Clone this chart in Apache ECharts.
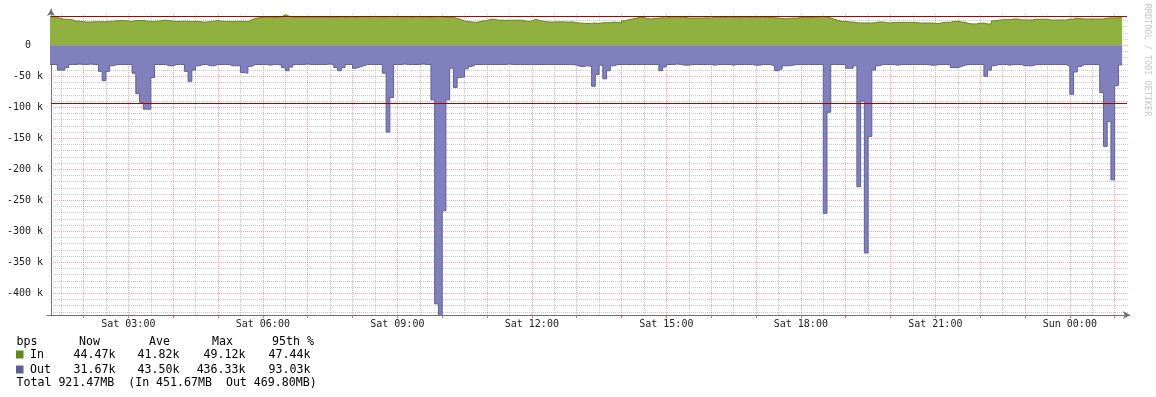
<!DOCTYPE html>
<html>
<head>
<meta charset="utf-8">
<title>Traffic - bps</title>
<script src="https://cdn.jsdelivr.net/npm/echarts@6/dist/echarts.min.js"></script>
<style>
  html, body { margin: 0; padding: 0; background: #fff; }
  #chart { width: 1156px; height: 397px; }
</style>
</head>
<body>
<div id="chart"></div>
<script>
// 5 minute samples, x is hours since Sat 00:00, first sample ends at 01:15
const START_HOUR = 1.25
const STEP_HOUR = 5 / 60

// inbound, k bps (one row = one hour)
const inK = [
  46,
  46, 45, 43, 42, 42, 41, 39, 39, 38, 37.5, 37.6, 38,
  38, 38, 38, 38, 39, 39.5, 40, 40, 39, 38.5, 40, 40,
  40, 39, 38.5, 38.5, 39, 40, 40.5, 40, 39, 38.5, 38.5, 39,
  38.5, 38.5, 38.7, 38.5, 37.5, 37.5, 38.5, 39, 40, 39, 38.5, 38.5,
  38.5, 38.7, 38.5, 38.7, 38.5, 41, 43.5, 44.5, 45, 45.5, 45.2, 45,
  45, 46, 49.12, 47, 45.5, 45.5, 45, 45.5, 45.5, 45, 45.5, 45.5,
  45.5, 45.5, 45, 45.5, 45.5, 46, 45.5, 46, 46, 45.5, 46, 46,
  46, 46, 46.5, 46, 46, 46, 46.5, 46, 46, 46, 46, 46,
  45.6, 46, 46, 45.6, 46, 45.5, 46, 46.5, 46, 45.5, 45.6, 45,
  43.5, 41.5, 39, 38.5, 37.5, 37, 38, 39.5, 40, 42, 42, 40.5,
  40.5, 40.3, 40.5, 40.3, 40.5, 40.5, 39.5, 38.7, 39, 42, 40, 39,
  38, 37.6, 37.6, 37.6, 38, 37.6, 37.5, 37.6, 36.5, 36, 35.5, 35,
  35.5, 36, 35, 36.5, 36.5, 36.5, 37.5, 37, 36, 39.5, 41.3, 42.5,
  44, 45, 45, 43, 42.5, 43.5, 44, 44.5, 44, 46, 46, 46,
  45.5, 45, 44, 44, 44, 44, 44, 44.5, 44, 45, 45, 45,
  45, 45.5, 45, 45, 45, 45.5, 45, 45, 45, 45.5, 45, 45,
  45, 44.5, 44, 43.5, 42.5, 43.5, 44, 44, 45, 45, 45, 45,
  45.6, 46, 46.5, 45.6, 44, 42, 40, 38.7, 38.7, 37.6, 37.6, 36.5,
  36, 36, 36, 36, 36.5, 37.6, 37.6, 36.5, 36, 37, 37, 37,
  37, 37, 37, 36.5, 36, 36, 36, 36, 35.5, 35, 37, 37,
  37, 38.5, 38.7, 37.6, 37, 35, 34.5, 34.5, 35.5, 36, 34.5, 34.5,
  39.5, 40.5, 41.3, 41.3, 41.3, 42.4, 42.4, 41, 41, 40.8, 41, 42,
  42, 42, 42, 40.8, 40.8, 40.8, 41, 40.8, 42, 42.4, 44, 43,
  42.4, 42.4, 42.5, 42.4, 42.4, 42.5, 44, 44.2, 44.3, 44.4, 44.47,
]

// outbound, k bps (drawn below zero)
const outK = [
  31,
  31, 31, 40, 40, 36, 31, 31, 30, 31, 31, 30, 31,
  31, 42, 57, 42, 33, 31, 31, 31, 31, 31, 45, 78,
  92, 103, 103, 52, 31, 31, 31, 33, 33, 31, 31, 31,
  42, 58, 40, 33, 31, 31, 33, 33, 31, 31, 31, 31,
  33, 33, 33, 44, 45, 34, 31, 31, 31, 31, 32, 31,
  31, 32, 36, 41, 35, 31, 31, 31, 30, 31, 31, 31,
  31, 31, 30, 31, 36, 41, 36, 31, 31, 37, 35, 33,
  31, 31, 31, 31, 31, 45, 140, 84, 31, 31, 30, 31,
  31, 31, 31, 30, 31, 31, 88, 417, 436.33, 267, 88, 37,
  68, 52, 51, 38, 34, 31, 31, 31, 31, 31, 31, 31,
  31, 31, 30, 31, 31, 31, 31, 31, 31, 31, 31, 31,
  31, 31, 31, 31, 31, 31, 31, 31, 32, 34, 34, 33,
  34, 66, 47, 32, 54, 41, 33, 31, 31, 31, 31, 31,
  31, 31, 31, 31, 31, 31, 31, 41, 35, 31, 31, 30,
  31, 32, 32, 31, 31, 31, 31, 31, 31, 32, 31, 31,
  31, 31, 32, 31, 31, 31, 31, 31, 32, 32, 31, 31,
  31, 34, 41, 38, 33, 33, 32, 31, 31, 31, 31, 31,
  31, 31, 31, 271, 108, 31, 31, 31, 31, 37, 37, 33,
  228, 90, 335, 147, 40, 33, 31, 31, 31, 31, 32, 31,
  31, 31, 31, 31, 31, 31, 31, 32, 32, 31, 31, 31,
  31, 36, 36, 34, 32, 31, 31, 31, 31, 31, 50, 40,
  33, 31, 31, 31, 32, 31, 31, 31, 33, 33, 33, 31,
  31, 31, 31, 31, 31, 31, 31, 31, 34, 79, 43, 34,
  31, 31, 31, 31, 31, 76, 163, 123, 217, 65, 31.67,
]

// 95th percentile lines, bps
const IN_95TH = 47440
const OUT_95TH = 93030

// legend table
const legendHead = ['bps', 'Now', 'Ave', 'Max', '95th %']
const inStats = ['44.47k', '41.82k', '49.12k', '47.44k']
const outStats = ['31.67k', '43.50k', '436.33k', '93.03k']
const totalText = 'Total 921.47MB  (In 451.67MB  Out 469.80MB)'
const watermark = 'RRDTOOL / TOBI OETIKER'

// ---- layout ----
const PLOT = { left: 51, right: 1127, top: 14, bottom: 315 }
const X_MIN = 1.275
const X_MAX = 25.275
const Y_MAX = 50500
const Y_MIN = -435000
const PLOT_H = PLOT.bottom - PLOT.top
const GRID_W = 1077

const yPx = v => PLOT.top + (Y_MAX - v) / (Y_MAX - Y_MIN) * PLOT_H
const xPx = h => PLOT.left + (h - X_MIN) / (X_MAX - X_MIN) * (PLOT.right - PLOT.left)

const MONO = '"DejaVu Sans Mono", monospace'
const COLORS = {
  inArea: '#90B040',
  inLine: '#608720',
  outArea: '#8080BD',
  outLine: '#606090',
  pct: '#AA0000',
  grid: 'rgba(160,160,160,0.55)',
  mgrid: 'rgba(255,100,100,0.55)',
  axis: '#707070',
}

const pad = n => (n < 10 ? '0' : '') + n
const hourLabel = h => {
  if (h % 3 !== 0) return ''
  return (h < 24 ? 'Sat ' : 'Sun ') + pad(h % 24) + ':00'
}
const yLabel = v => {
  if (v === 0) return '0  '
  return (v / 1000) + ' k'
}

const toSeries = (arr, sign) => arr.map((v, i) => [START_HOUR + i * STEP_HOUR, sign * v * 1000])

const hidden = { show: false }
const dummy = i => ({ type: 'value', gridIndex: i, min: 0, max: 1, show: false })

// grid lines are drawn as long inside ticks, those get snapped to whole pixels
const gridTicks = (len, color) => ({
  show: true, inside: true, length: len,
  lineStyle: { color, width: 1, type: [1, 1] },
})

const grids = []
const xAxes = []
const yAxes = []

const addGrid = (grid, xAxis, yAxis) => {
  const i = grids.length
  grids.push(grid)
  xAxes.push(Object.assign({ gridIndex: i }, xAxis || dummy(i)))
  yAxes.push(Object.assign({ gridIndex: i }, yAxis || dummy(i)))
  return i
}

// 0: data
addGrid(
  { left: PLOT.left, top: PLOT.top, width: PLOT.right - PLOT.left, height: PLOT_H },
  { type: 'value', min: X_MIN, max: X_MAX, show: false },
  { type: 'value', min: Y_MIN, max: Y_MAX, show: false }
)

// minor horizontal lines every 10k, skipping the 50k ones (one grid per offset)
;[40000, 30000, 20000, 10000].forEach(top => {
  let low = top
  while (low - 50000 >= Y_MIN) low -= 50000
  addGrid(
    { left: PLOT.left, top: yPx(top), width: GRID_W, height: yPx(low) - yPx(top) },
    null,
    {
      type: 'value', min: low, max: top, interval: 50000, position: 'left',
      axisLine: { show: false, onZero: false },
      axisTick: gridTicks(GRID_W, COLORS.grid),
      axisLabel: hidden, splitLine: hidden,
    }
  )
})

// major horizontal lines every 50k, with labels
addGrid(
  { left: PLOT.left, top: yPx(0), width: GRID_W, height: yPx(-400000) - yPx(0) },
  null,
  {
    type: 'value', min: -400000, max: 0, interval: 50000, position: 'left',
    axisLine: { show: false, onZero: false },
    axisTick: gridTicks(GRID_W, COLORS.mgrid),
    axisLabel: {
      show: true, formatter: yLabel, margin: 8,
      fontFamily: MONO, fontSize: 10, color: '#222',
    },
    splitLine: hidden,
  }
)

// minor vertical lines on the half hours
addGrid(
  { left: xPx(1.5), top: PLOT.top, width: xPx(24.5) - xPx(1.5), height: PLOT_H },
  {
    type: 'value', min: 1.5, max: 24.5, interval: 1, position: 'bottom',
    axisLine: { show: false, onZero: false },
    axisTick: gridTicks(PLOT_H, COLORS.grid),
    axisLabel: hidden, splitLine: hidden,
  }
)

// major vertical lines every hour, labels every 3 hours
const hourGrid = addGrid(
  { left: xPx(2), top: PLOT.top, width: xPx(25) - xPx(2), height: PLOT_H },
  {
    type: 'value', min: 2, max: 25, interval: 1, position: 'bottom',
    axisLine: { show: false, onZero: false },
    axisTick: gridTicks(PLOT_H, COLORS.mgrid),
    axisLabel: hidden, splitLine: hidden,
  }
)
xAxes.push({
  type: 'value', gridIndex: hourGrid, min: 2, max: 25, interval: 1, position: 'bottom', offset: 0,
  axisLine: { show: false, onZero: false },
  axisTick: { show: true, length: 3, lineStyle: { color: '#e07070' } },
  axisLabel: {
    show: true, formatter: hourLabel, margin: 4,
    fontFamily: MONO, fontSize: 10, color: '#222',
    hideOverlap: false,
  },
  splitLine: hidden,
})

// axis frame with arrows
const arrowLine = { show: true, onZero: false, symbol: ['none', 'arrow'], symbolSize: [6, 7], lineStyle: { color: COLORS.axis, width: 1 } }
addGrid(
  { left: PLOT.left - 4, top: 9, width: 1083, height: PLOT.bottom - 9 },
  { type: 'value', min: 0, max: 1, axisLine: arrowLine, axisTick: hidden, axisLabel: hidden, splitLine: hidden },
  { type: 'value', min: 0, max: 1, offset: -4, axisLine: arrowLine, axisTick: hidden, axisLabel: hidden, splitLine: hidden }
)

// legend graphics
const headX = [16.5, 79, 149, 212, 272]
const valRight = [115.5, 179.5, 245.5, 310.5]
const rowY = { head: 341.5, in: 354.5, out: 369.5, total: 383 }
const legendFont = '11.6px ' + MONO

const txt = (text, x, y, align) => ({
  type: 'text', x, y, silent: true,
  style: { text, x: 0, y: 0, font: legendFont, fill: '#000', textAlign: align || 'left', textVerticalAlign: 'middle', align: align || 'left', verticalAlign: 'middle' },
})

const graphic = [
  ...legendHead.map((t, i) => txt(t, headX[i], rowY.head)),
  { type: 'rect', silent: true, shape: { x: 16, y: 350.5, width: 7.5, height: 8 }, style: { fill: COLORS.inLine } },
  txt('In', 30, rowY.in),
  ...inStats.map((t, i) => txt(t, valRight[i], rowY.in, 'right')),
  { type: 'rect', silent: true, shape: { x: 16, y: 365.5, width: 7.5, height: 8 }, style: { fill: COLORS.outLine } },
  txt('Out', 30, rowY.out),
  ...outStats.map((t, i) => txt(t, valRight[i], rowY.out, 'right')),
  txt(totalText, 16.5, rowY.total),
  {
    type: 'text', x: 1147, y: 60, rotation: -Math.PI / 2, silent: true,
    style: { text: watermark, font: '8.5px ' + MONO, fill: '#c8c8c8', textAlign: 'center', textVerticalAlign: 'middle', align: 'center', verticalAlign: 'middle' },
  },
]

const chart = echarts.init(document.getElementById('chart'), null, { renderer: 'canvas' })

chart.setOption({
  animation: false,
  backgroundColor: '#fff',
  grid: grids,
  xAxis: xAxes,
  yAxis: yAxes,
  graphic,
  series: [
    {
      name: 'In', type: 'line', xAxisIndex: 0, yAxisIndex: 0,
      step: 'start', symbol: 'none', z: 3,
      data: toSeries(inK, 1),
      lineStyle: { color: COLORS.inLine, width: 1 },
      areaStyle: { color: COLORS.inArea, opacity: 1 },
    },
    {
      name: 'Out', type: 'line', xAxisIndex: 0, yAxisIndex: 0,
      step: 'start', symbol: 'none', z: 3,
      data: toSeries(outK, -1),
      lineStyle: { color: COLORS.outLine, width: 1 },
      areaStyle: { color: COLORS.outArea, opacity: 1 },
    },
    {
      name: '95th', type: 'line', xAxisIndex: 0, yAxisIndex: 0, z: 5,
      data: [],
      markLine: {
        silent: true, symbol: 'none', animation: false,
        label: { show: false },
        lineStyle: { color: COLORS.pct, width: 1, type: 'solid' },
        data: [{ yAxis: IN_95TH }, { yAxis: -OUT_95TH }],
      },
    },
  ],
})
</script>
</body>
</html>
